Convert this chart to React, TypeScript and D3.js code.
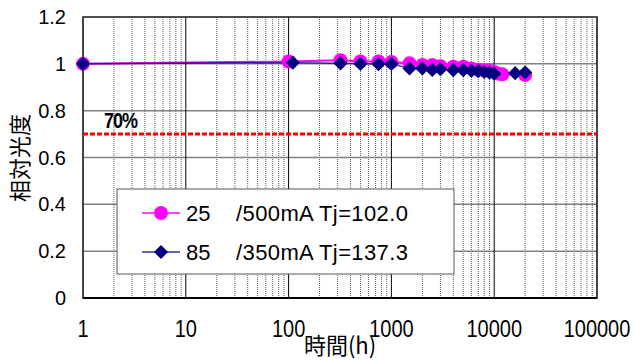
import React, { useEffect, useRef } from "react";
import * as d3 from "d3";

// hours, relative luminous intensity
const hours25 = [1, 100, 320, 500, 750, 1000, 1500, 2000, 2500, 3000, 4000, 5000, 6000, 7000, 8000, 9000, 10000, 11000, 12000, 20000];
const values25 = [1.0, 1.01, 1.015, 1.01, 1.01, 1.008, 1.002, 0.995, 0.995, 0.99, 0.988, 0.988, 0.98, 0.975, 0.972, 0.97, 0.965, 0.958, 0.955, 0.952];

const hours85 = [1, 110, 320, 500, 750, 1000, 1500, 2000, 2500, 3000, 4000, 5000, 6000, 7000, 8000, 9000, 10000, 16000, 20000];
const values85 = [1.0, 1.005, 1.002, 1.0, 0.999, 1.0, 0.98, 0.98, 0.974, 0.977, 0.973, 0.973, 0.97, 0.969, 0.965, 0.962, 0.958, 0.96, 0.963];

const xTicks = [1, 10, 100, 1000, 10000, 100000];
const yTicks = [0, 0.2, 0.4, 0.6, 0.8, 1, 1.2];
const threshold = 0.7;

const legendNames = ["25", "85"];
const legendRest = ["/500mA Tj=102.0", "/350mA Tj=137.3"];

const FONT = "'Liberation Sans', Arial, sans-serif";
const CJK = "'Noto Sans CJK JP', sans-serif";

const App = () => {
    const chartRef = useRef<HTMLDivElement>(null);

    useEffect(() => {
        d3.select(chartRef.current).select("svg").remove();

        const W = 635;
        const H = 361;
        const plot = { left: 83, right: 597, top: 17, bottom: 298 };

        const svg = d3
            .select(chartRef.current)
            .append("svg")
            .attr("width", W)
            .attr("height", H)
            .style("position", "absolute")
            .style("left", "0px")
            .style("top", "0px")
            .style("background", "#fff");

        const x = d3.scaleLog().domain([1, 100000]).range([plot.left, plot.right]);
        const y = d3.scaleLinear().domain([0, 1.2]).range([plot.bottom, plot.top]);

        // minor vertical grid (dotted)
        const minor: number[] = [];
        for (let d = 1; d < 100000; d *= 10) {
            for (let k = 2; k <= 9; k++) minor.push(d * k);
        }
        svg.append("g")
            .selectAll("line")
            .data(minor)
            .enter()
            .append("line")
            .attr("x1", (d) => x(d))
            .attr("x2", (d) => x(d))
            .attr("y1", plot.top)
            .attr("y2", plot.bottom)
            .attr("stroke", "#444")
            .attr("stroke-width", 1)
            .attr("stroke-dasharray", "1,1")
            .attr("opacity", 0.85);

        // horizontal grid
        svg.append("g")
            .selectAll("line")
            .data(yTicks)
            .enter()
            .append("line")
            .attr("x1", plot.left)
            .attr("x2", plot.right)
            .attr("y1", (d) => y(d))
            .attr("y2", (d) => y(d))
            .attr("stroke", "#808080")
            .attr("stroke-width", 1.5);

        // decade lines
        svg.append("g")
            .selectAll("line")
            .data(xTicks)
            .enter()
            .append("line")
            .attr("x1", (d) => x(d))
            .attr("x2", (d) => x(d))
            .attr("y1", plot.top)
            .attr("y2", plot.bottom)
            .attr("stroke", "#000")
            .attr("stroke-width", 1);

        // frame
        svg.append("rect")
            .attr("x", plot.left)
            .attr("y", plot.top)
            .attr("width", plot.right - plot.left)
            .attr("height", plot.bottom - plot.top)
            .attr("fill", "none")
            .attr("stroke", "#333")
            .attr("stroke-width", 1.5);
        svg.append("line")
            .attr("x1", plot.left)
            .attr("x2", plot.right)
            .attr("y1", plot.bottom)
            .attr("y2", plot.bottom)
            .attr("stroke", "#000")
            .attr("stroke-width", 2);

        // 70% line
        svg.append("line")
            .attr("x1", plot.left)
            .attr("x2", plot.right)
            .attr("y1", y(threshold))
            .attr("y2", y(threshold))
            .attr("stroke", "#ff0000")
            .attr("stroke-width", 3)
            .attr("stroke-dasharray", "5,2");

        svg.append("text")
            .attr("transform", `translate(104,${y(threshold) - 6}) scale(1,1.2)`)
            .attr("font-family", FONT)
            .attr("font-weight", "bold")
            .attr("font-size", 18)
            .attr("letter-spacing", -1)
            .text("70%");

        // series
        const s25 = hours25.map((h, i) => ({ h, v: values25[i] }));
        const s85 = hours85.map((h, i) => ({ h, v: values85[i] }));
        const line = d3
            .line<{ h: number; v: number }>()
            .x((d) => x(d.h))
            .y((d) => y(d.v));

        svg.append("path")
            .datum(s25)
            .attr("d", line)
            .attr("fill", "none")
            .attr("stroke", "#ff00ff")
            .attr("stroke-width", 2);

        svg.append("path")
            .datum(s85)
            .attr("d", line)
            .attr("fill", "none")
            .attr("stroke", "#000080")
            .attr("stroke-width", 1.5)
            .attr("opacity", 0.75);

        svg.append("g")
            .selectAll("circle")
            .data(s25)
            .enter()
            .append("circle")
            .attr("cx", (d) => x(d.h))
            .attr("cy", (d) => y(d.v))
            .attr("r", 7)
            .attr("fill", "#ff00ff");

        const diamond = d3.symbol().type(d3.symbolDiamond2).size(128)();
        svg.append("g")
            .selectAll("path")
            .data(s85)
            .enter()
            .append("path")
            .attr("d", diamond)
            .attr("transform", (d) => `translate(${x(d.h)},${y(d.v)})`)
            .attr("fill", "#000080");

        // y tick labels
        svg.append("g")
            .selectAll("text")
            .data(yTicks)
            .enter()
            .append("text")
            .attr("x", 66)
            .attr("y", (d) => y(d) + 7)
            .attr("text-anchor", "end")
            .attr("font-family", FONT)
            .attr("font-size", 20)
            .text((d) => (d === 0 || d === 1 ? String(d) : d.toFixed(1)));

        // x tick labels
        svg.append("g")
            .selectAll("text")
            .data(xTicks)
            .enter()
            .append("text")
            .attr("transform", (d) => `translate(${x(d)},337) scale(1,1.15)`)
            .attr("text-anchor", "middle")
            .attr("font-family", FONT)
            .attr("font-size", 20)
            .text((d) => String(d));

        // axis titles
        svg.append("text")
            .attr("transform", "translate(340,354) scale(1,1.05)")
            .attr("text-anchor", "middle")
            .attr("font-family", CJK)
            .attr("font-size", 22)
            .text("時間(h)");

        svg.append("text")
            .attr("transform", "translate(28,158) rotate(-90)")
            .attr("text-anchor", "middle")
            .attr("font-family", CJK)
            .attr("font-size", 22)
            .text("相対光度");

        // legend
        const legend = svg.append("g");
        legend.append("rect")
            .attr("x", 117)
            .attr("y", 189)
            .attr("width", 337)
            .attr("height", 85)
            .attr("fill", "#fff")
            .attr("stroke", "#555")
            .attr("stroke-width", 1);

        const rows = [
            { cy: 213, color: "#ff00ff", marker: "circle" },
            { cy: 252, color: "#000080", marker: "diamond" },
        ];
        rows.forEach((r, i) => {
            legend.append("line")
                .attr("x1", 142)
                .attr("x2", 180)
                .attr("y1", r.cy)
                .attr("y2", r.cy)
                .attr("stroke", r.color)
                .attr("stroke-width", i === 0 ? 1.5 : 2)
                .attr("opacity", i === 0 ? 1 : 0.6);
            if (r.marker === "circle") {
                legend.append("circle")
                    .attr("cx", 161)
                    .attr("cy", r.cy)
                    .attr("r", 7)
                    .attr("fill", r.color);
            } else {
                legend.append("path")
                    .attr("d", diamond)
                    .attr("transform", `translate(161,${r.cy})`)
                    .attr("fill", r.color);
            }
            legend.append("text")
                .attr("x", 186)
                .attr("y", r.cy + 8)
                .attr("font-family", FONT)
                .attr("font-size", 22)
                .text(legendNames[i]);
            legend.append("text")
                .attr("x", 236)
                .attr("y", r.cy + 8)
                .attr("font-family", FONT)
                .attr("font-size", 22)
                .attr("textLength", 172)
                .text(legendRest[i]);
        });
    }, []);

    return <div ref={chartRef}></div>;
};

export default App;
